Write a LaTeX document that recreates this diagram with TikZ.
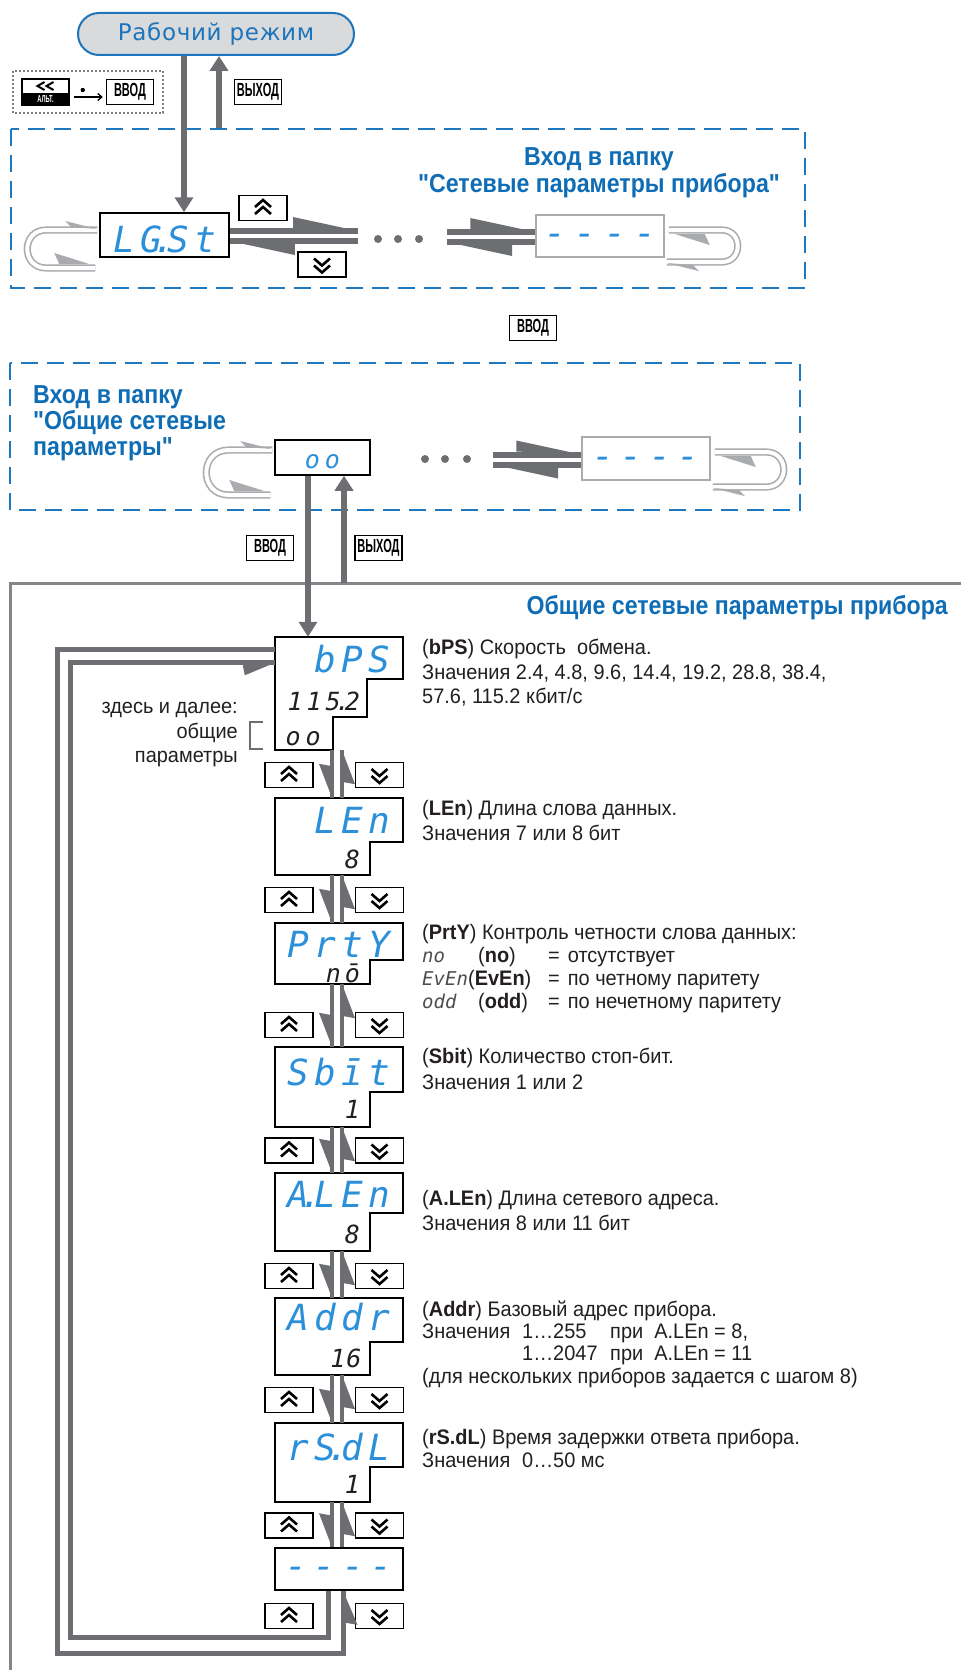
\documentclass[tikz,border=0pt]{standalone}
\usepackage{fontspec}
\setmainfont{Liberation Sans}
\newfontfamily\descfont{Liberation Sans}[FakeStretch=0.95]
\newfontfamily\titfont{Liberation Sans}[FakeStretch=0.89]
\newfontfamily\keyfont{Liberation Sans}[FakeStretch=0.58]
\newfontfamily\pillfont{DejaVu Sans}[LetterSpace=3]
\newfontfamily\segfont{DejaVu Sans Mono}
\usetikzlibrary{arrows.meta,calc}

\definecolor{segblue}{HTML}{2B8FD9}
\definecolor{titblue}{HTML}{0F6DB5}
\definecolor{dashblue}{HTML}{1E78C0}
\definecolor{arrgray}{HTML}{6D6E71}
\definecolor{loopgray}{HTML}{A9ABAE}
\definecolor{framegray}{HTML}{858689}
\definecolor{pillfill}{HTML}{D9DADB}
\definecolor{pillblue}{HTML}{1C75BC}
\definecolor{segdark}{HTML}{231F20}
\definecolor{txtblack}{HTML}{231F20}
\definecolor{dotgray}{HTML}{7A7B7E}

\makeatletter
\def\segdotchar{.}
\newcommand\segtxt[2][27pt]{\@tfor\segc:=#2\do{\ifx\segc\segdotchar\kern-.3em.\kern-.3em\else\makebox[#1][c]{\segc}\fi}}
\makeatother

\tikzset{
 every node/.style={inner sep=0pt},
 dispbox/.style={draw=black, line width=1.5pt, fill=white, minimum width=128pt, minimum height=42pt},
 segbig/.style={font=\segfont\itshape\fontsize{36}{36}\selectfont, text=segblue},
 segsmall/.style={font=\segfont\itshape\fontsize{25}{25}\selectfont, text=segdark},
 descseg/.style={font=\segfont\itshape\fontsize{19}{19}\selectfont, text=segdark!80, anchor=base west},
 keybox/.style={draw=black, line width=1.6pt, fill=white, minimum width=48pt, minimum height=25pt},
 lkey/.style={draw=black, line width=1.5pt, fill=white, minimum width=47pt, minimum height=25pt, font=\keyfont\bfseries\fontsize{19}{19}\selectfont},
 chev/.style={line width=2.6pt, line join=miter},
 bigarr/.style={draw=arrgray, line width=6pt, -{Triangle[length=15pt,width=18pt]}},
 band/.style={draw=arrgray, line width=6pt},
 thinband/.style={draw=arrgray, line width=4pt},
 loopband/.style={draw=arrgray, line width=5pt},
 loopline/.style={draw=loopgray, line width=1.6pt, double=white, double distance=4pt},
 dashbox/.style={draw=dashblue, line width=2.8pt, dash pattern=on 17pt off 9pt},
 desc/.style={font=\descfont\fontsize{21}{25}\selectfont, anchor=base west, text=txtblack},
 titl/.style={font=\titfont\bfseries\fontsize{26}{27}\selectfont, text=titblue},
}

\newcommand\upkey[2]{\node[keybox] (#1) at (#2) {};
 \draw[chev] ([shift={(-8,-1)}]#1.center) -- ([shift={(0,-8)}]#1.center) -- ([shift={(8,-1)}]#1.center);
 \draw[chev] ([shift={(-8,6)}]#1.center) -- ([shift={(0,-1)}]#1.center) -- ([shift={(8,6)}]#1.center);}
\newcommand\dnkey[2]{\node[keybox] (#1) at (#2) {};
 \draw[chev] ([shift={(-8,1)}]#1.center) -- ([shift={(0,8)}]#1.center) -- ([shift={(8,1)}]#1.center);
 \draw[chev] ([shift={(-8,-6)}]#1.center) -- ([shift={(0,1)}]#1.center) -- ([shift={(8,-6)}]#1.center);}

\newcommand\stepbox[5]{%
 \filldraw[draw=black, line width=1.5pt, fill=white] (275,#2) -- (403,#2) -- (403,#3) -- (#5,#3) -- (#5,#4) -- (275,#4) -- cycle;
 \node[minimum width=128pt, minimum height={(#4-#2)*1pt}] (#1) at (339,{(#2+#4)/2}) {};}

\newcommand\hpair[2]{%
 \draw[band] ($(#1)+(0,-4)$) -- ($(#2)+(0,-4)$);
 \fill[arrgray] ($(#2)+(-65,-7)$) -- ($(#2)+(-65,-18)$) -- ($(#2)+(0,-4)$) -- cycle;
 \draw[band] ($(#1)+(0,6)$) -- ($(#2)+(0,6)$);
 \fill[arrgray] ($(#1)+(65,9)$) -- ($(#1)+(65,20)$) -- ($(#1)+(0,6)$) -- cycle;}

\newcommand\vpair[2]{%
 \draw[thinband] (#1.south -| xL) -- (#2.north -| xL);
 \fill[arrgray] (#2.north -| xL) -- ++(-2,-32) -- ++(-11,-2) -- cycle;
 \draw[thinband] (#2.north -| xR) -- (#1.south -| xR);
 \fill[arrgray] (#1.south -| xR) -- ++(2,32) -- ++(11,2) -- cycle;}

\newcommand\loopmark[4]{%
 \begin{scope}[shift={(#1)}, rotate=#4]
 \draw[loopline] (-2,0) -- ({-#2+#3},0) .. controls ({-#2+#3-1.333*#3},0) and ({-#2+#3-1.333*#3},{2*#3}) .. ({-#2+#3},{2*#3}) -- (-4,{2*#3});
 \fill[loopgray] (-34,-9) -- (-2,-1) -- (-28,-3) -- cycle;
 \fill[loopgray] (-45,{2*#3-15}) -- (-10,{2*#3-4}) -- (-40,{2*#3-4}) -- cycle;
 \end{scope}}

\begin{document}
\begin{tikzpicture}[x=1pt,y=-1pt]
\useasboundingbox (0,0) rectangle (961,1670);
\fill[white] (0,0) rectangle (961,1670);

% ---------- top: working mode ----------
\node[draw=pillblue, line width=2pt, fill=pillfill, rounded corners=21pt, minimum width=276pt, minimum height=42pt,
      font=\pillfont\fontsize{23}{23}\selectfont, text=pillblue] (work) at (216,34) {Рабочий режим};

\draw[dotgray, line width=1.5pt, dash pattern=on 2pt off 2pt] (13,71) rectangle (163,113);
\node[draw=black, line width=1.5pt, fill=white, minimum width=47pt, minimum height=26pt] (alt) at (45.5,92) {};
\fill[black] (alt.south west) rectangle ([shift={(0,1)}]alt.east);
\node[font=\keyfont\bfseries\fontsize{10}{10}\selectfont, text=white] (altt) at ([shift={(0,7)}]alt.center) {АЛЬТ.};
\draw[line width=2pt] ([shift={(-1,-10)}]alt.center) -- ([shift={(-8,-6)}]alt.center) -- ([shift={(-1,-2)}]alt.center);
\draw[line width=2pt] ([shift={(8,-10)}]alt.center) -- ([shift={(1,-6)}]alt.center) -- ([shift={(8,-2)}]alt.center);
\node[lkey] (in0) at (130,92) {ВВОД};
\node[lkey] (out0) at (258,92) {ВЫХОД};
\fill[black] ([shift={(13,-2)}]alt.east) circle (2.2pt);
\draw[line width=1.3pt, -{Straight Barb[length=4pt,width=7pt]}] ([shift={(4,5)}]alt.east) -- ([shift={(-3,5)}]in0.west);

% ---------- dashed box 1 ----------
\draw[dashbox] (11,129) rectangle (805,288);
\node[titl, anchor=base] (t1a) at (599,165) {Вход в папку};
\node[titl, anchor=base] (t1b) at (599,192) {"Сетевые параметры прибора"};

\node[dispbox, minimum width=129pt, minimum height=44pt] (LG) at (164.5,235) {};
\node[segbig, anchor=base] (LGt) at (164.5,252) {\segtxt{LG.St}};
\node[dispbox, draw=loopgray] (dash1) at (600,236) {};
\node[segbig] (dash1t) at (600,240) {\segtxt[30pt]{----}};

\upkey{k1u}{263,208}
\dnkey{k1d}{322,264.5}

\draw[bigarr] ([xshift=-32pt]work.south) -- ([xshift=19.5pt]LG.north);
\coordinate (exit1) at (219,128);
\draw[bigarr] (exit1) -- (exit1 |- work.south);

\coordinate (r1e) at (358,235);
\hpair{LG.east}{r1e}
\foreach \x/\n in {378/a,398/b,419/c} \node[circle, fill=arrgray, minimum size=8pt] (dA\n) at (\x,239) {};
\coordinate (r1s) at (447,236);
\hpair{r1s}{dash1.west}

\coordinate (lp1) at ([yshift=5pt]LG.west);
\loopmark{lp1}{72}{19}{0}
\coordinate (lp2) at ([yshift=-26pt]dash1.east);
\loopmark{lp2}{73}{16}{180}

\node[lkey] (in1) at (533,328) {ВВОД};

% ---------- dashed box 2 ----------
\draw[dashbox] (10,363) rectangle (800,510);
\node[titl, anchor=base west] (t2a) at (33,403) {Вход в папку};
\node[titl, anchor=base west] (t2b) at (33,429) {"Общие сетевые};
\node[titl, anchor=base west] (t2c) at (33,455) {параметры"};

\node[dispbox, minimum width=95pt, minimum height=35pt] (oo) at (322.5,457.5) {};
\node[segsmall, text=segblue, anchor=base] (oot) at (322.5,468) {\segtxt[20pt]{oo}};
\node[dispbox, draw=loopgray, minimum height=43pt] (dash2) at (646,458.5) {};
\node[segbig] (dash2t) at (646,462.5) {\segtxt[28.5pt]{----}};

\foreach \x/\n in {425/a,445/b,467/c} \node[circle, fill=arrgray, minimum size=8pt] (dB\n) at (\x,459) {};
\coordinate (r2s) at (493,458.5);
\hpair{r2s}{dash2.west}

\coordinate (lp3) at ([yshift=7.5pt]oo.west);
\loopmark{lp3}{68}{22.5}{0}
\coordinate (lp4) at ([yshift=-28.5pt]dash2.east);
\loopmark{lp4}{73}{17.5}{180}

\node[lkey] (in2) at (270,548) {ВВОД};
\node[lkey] (out2) at (378.5,548) {ВЫХОД};

% ---------- frame ----------
\draw[framegray, line width=3pt] (10,1670) -- (10,583) -- (961,583);
\node[titl, anchor=base east] (t3) at (948,614) {Общие сетевые параметры прибора};

% ---------- main column boxes ----------
\filldraw[draw=black, line width=1.5pt, fill=white] (275,637) -- (403,637) -- (403,679) -- (367,679) -- (367,717) -- (333,717) -- (333,750) -- (275,750) -- cycle;
\node[minimum width=128pt, minimum height=113pt] (bps) at (339,693.5) {};
\stepbox{len}{798}{842}{875}{370}
\stepbox{prty}{923}{960}{984}{370}
\stepbox{sbit}{1047}{1092}{1127}{370}
\stepbox{alen}{1173}{1213}{1251}{370}
\stepbox{addr}{1298}{1342}{1375}{370}
\stepbox{rsdl}{1423}{1467}{1502}{370}
\node[dispbox] (last) at (339,1569) {};

\node[segbig, anchor=base east] (bpst) at (393,672) {\segtxt{bPS}};
\node[segsmall, anchor=base east] (bpsv) at (362,710) {\segtxt[19pt]{115.2}};
\node[segsmall, anchor=base west] (bpso) at (283,745) {\segtxt[20pt]{oo}};
\node[segbig, anchor=base east] (lent) at (393,833) {\segtxt{LEn}};
\node[segsmall, anchor=base east] (lenv) at (362,868) {\segtxt[19pt]{8}};
\node[segbig, anchor=base east] (prtyt) at (393,957) {\segtxt{PrtY}};
\node[segsmall, anchor=base east] (prtyv) at (362,982) {\segtxt[19pt]{nō}};
\node[segbig, anchor=base east] (sbitt) at (393,1085) {\segtxt{Sbīt}};
\node[segsmall, anchor=base east] (sbitv) at (362,1118) {\segtxt[19pt]{1}};
\node[segbig, anchor=base east] (alent) at (393,1207) {\segtxt{A.LEn}};
\node[segsmall, anchor=base east] (alenv) at (362,1243) {\segtxt[19pt]{8}};
\node[segbig, anchor=base east] (addrt) at (393,1330) {\segtxt{Addr}};
\node[segsmall, anchor=base east] (addrv) at (362,1367) {\segtxt[16pt]{16}};
\node[segbig, anchor=base east] (rsdlt) at (393,1460) {\segtxt{rS.dL}};
\node[segsmall, anchor=base east] (rsdlv) at (362,1493) {\segtxt[19pt]{1}};
\node[segbig] (lastt) at (339,1573) {\segtxt[28.5pt]{----}};

% entry arrows
\draw[bigarr] ([xshift=-14.5pt]oo.south) -- ([xshift=-31pt]bps.north);
\coordinate (exit2) at (344,583);
\draw[bigarr] (exit2) -- (exit2 |- oo.south);

% keys in column
\foreach \y/\n in {775/1,900/2,1025/3,1150.5/4,1276/5,1400/6,1525.5/7,1616/8}{
  \upkey{cu\n}{289,\y}
  \dnkey{cd\n}{379.5,\y}
}

% arrows between boxes
\coordinate (xL) at (332,0);
\coordinate (xR) at (342,0);
\vpair{bps}{len}
\vpair{len}{prty}
\vpair{prty}{sbit}
\vpair{sbit}{alen}
\vpair{alen}{addr}
\vpair{addr}{rsdl}
\vpair{rsdl}{last}

% wrap-around loop
\coordinate (oc) at (57,1653);
\draw[loopband] ([yshift=-13pt]bps.north west) -| (oc) -| ([xshift=4pt]last.south);
\fill[arrgray] ([xshift=4pt]last.south) -- ++(2.5,32) -- ++(12,2) -- cycle;
\coordinate (ic) at (70,1637);
\draw[loopband] ([xshift=-11pt]last.south) |- (ic) |- ([yshift=-26pt]bps.north west);
\fill[arrgray] ([yshift=-26pt]bps.north west) -- ++(-32,2.5) -- ++(2,10) -- cycle;

% note
\node[desc, anchor=base east] (n1) at (238,713) {здесь и далее:};
\node[desc, anchor=base east] (n2) at (238,738) {общие};
\node[desc, anchor=base east] (n3) at (238,762) {параметры};
\draw[arrgray, line width=1.2pt] (263,722) -- (250,722) -- (250,749) -- (263,749);

% descriptions
\node[desc] (d1a) at (422,654) {(\textbf{bPS}) Скорость\ \ обмена.};
\node[desc] (d1b) at (422,679) {Значения 2.4, 4.8, 9.6, 14.4, 19.2, 28.8, 38.4,};
\node[desc] (d1c) at (422,703) {57.6, 115.2 кбит/с};
\node[desc] (d2a) at (422,815) {(\textbf{LEn}) Длина слова данных.};
\node[desc] (d2b) at (422,840) {Значения 7 или 8 бит};
\node[desc] (d3a) at (422,939) {(\textbf{PrtY}) Контроль четности слова данных:};
\node[descseg] (d3b1) at (422,962) {no};
\node[desc] (d3b2) at (478,962) {(\textbf{no})};
\node[desc] (d3b3) at (548,962) {=\hspace{8pt}отсутствует};
\node[descseg] (d3c1) at (422,985) {EvEn};
\node[desc] (d3c2) at (468,985) {(\textbf{EvEn})};
\node[desc] (d3c3) at (548,985) {=\hspace{8pt}по четному паритету};
\node[descseg] (d3d1) at (422,1008) {odd};
\node[desc] (d3d2) at (478,1008) {(\textbf{odd})};
\node[desc] (d3d3) at (548,1008) {=\hspace{8pt}по нечетному паритету};
\node[desc] (d4a) at (422,1063) {(\textbf{Sbit}) Количество стоп-бит.};
\node[desc] (d4b) at (422,1089) {Значения 1 или 2};
\node[desc] (d5a) at (422,1205) {(\textbf{A.LEn}) Длина сетевого адреса.};
\node[desc] (d5b) at (422,1230) {Значения 8 или 11 бит};
\node[desc] (d6a) at (422,1316) {(\textbf{Addr}) Базовый адрес прибора.};
\node[desc] (d6b) at (422,1338) {Значения};
\node[desc] (d6c) at (522,1338) {1…255};
\node[desc] (d6d) at (610,1338) {при\ \ A.LEn = 8,};
\node[desc] (d6e) at (522,1360) {1…2047};
\node[desc] (d6f) at (610,1360) {при\ \ A.LEn = 11};
\node[desc] (d6g) at (422,1383) {(для нескольких приборов задается с шагом 8)};
\node[desc] (d7a) at (422,1444) {(\textbf{rS.dL}) Время задержки ответа прибора.};
\node[desc] (d7b) at (422,1467) {Значения};
\node[desc] (d7c) at (522,1467) {0…50 мс};
\end{tikzpicture}
\end{document}
